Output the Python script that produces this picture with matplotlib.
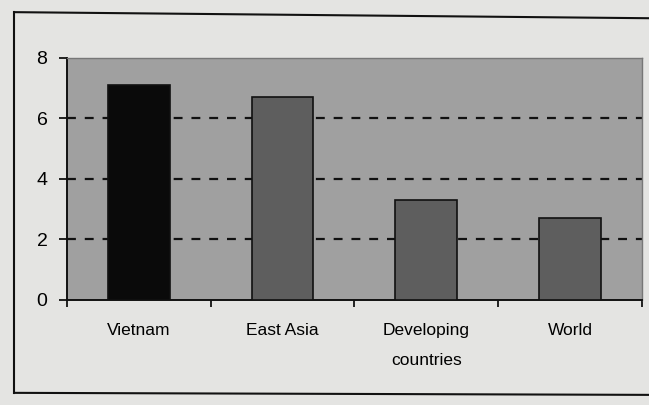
import numpy as np
import matplotlib.pyplot as plt
from matplotlib.lines import Line2D

countries = ['Vietnam', 'East Asia', 'Developing\ncountries', 'World']
growth = [7.1, 6.7, 3.3, 2.7]
bar_colors = ['#0a0a0a', '#5e5e5e', '#5e5e5e', '#5e5e5e']
yticks = [0, 2, 4, 6, 8]

plt.rcParams['font.family'] = ['Liberation Sans Narrow', 'Liberation Sans', 'DejaVu Sans']

fig = plt.figure(figsize=(6.49, 4.05), dpi=100, facecolor='#e4e4e2')
ax = fig.add_axes([0.103, 0.26, 0.886, 0.597])
ax.set_facecolor('#a0a0a0')

x = np.arange(len(countries))
ax.bar(x, growth, width=0.43, color=bar_colors, edgecolor='#111111', linewidth=1.2, zorder=3)

for v in yticks[1:-1]:
    ax.axhline(v, color='#111111', linestyle=(0, (4, 4)), linewidth=1.6, zorder=2)

ax.set_xlim(-0.5, len(countries) - 0.5)
ax.set_ylim(0, 8)
ax.set_yticks(yticks)
ax.set_yticklabels([str(v) for v in yticks], fontsize=14, family=['Liberation Sans', 'DejaVu Sans'])
ax.tick_params(axis='y', length=6, width=1.2, direction='out', pad=8)

ax.set_xticks(x)
ax.set_xticklabels(countries, fontsize=12.5, linespacing=2.2)
ax.set_xticks(np.arange(len(countries) + 1) - 0.5, minor=True)
ax.tick_params(axis='x', which='major', length=0, pad=17)
ax.tick_params(axis='x', which='minor', length=5, width=1.2, direction='out')

for s in ['top', 'right']:
    ax.spines[s].set_color('#777777')
    ax.spines[s].set_linewidth(1.0)
for s in ['left', 'bottom']:
    ax.spines[s].set_color('#111111')
    ax.spines[s].set_linewidth(1.4)

# outer frame of the scanned chart
fig.add_artist(Line2D([0.022, 0.022], [0.03, 0.97], color='#111111', lw=1.5))
fig.add_artist(Line2D([0.022, 1.0], [0.97, 0.955], color='#111111', lw=1.5))
fig.add_artist(Line2D([0.022, 1.0], [0.03, 0.025], color='#111111', lw=1.5))

fig.savefig('out.png', dpi=100, facecolor=fig.get_facecolor())
